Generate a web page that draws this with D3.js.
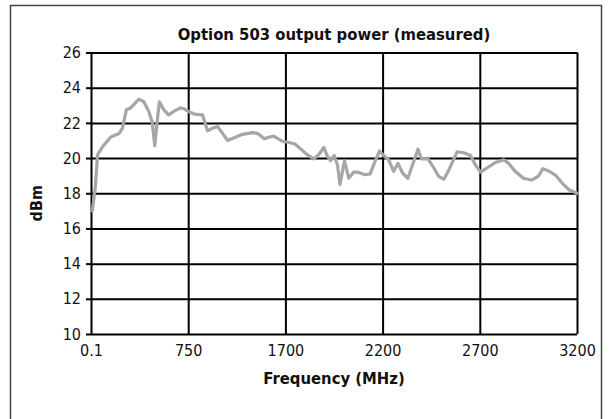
<!DOCTYPE html>
<html>
<head>
<meta charset="utf-8">
<script src="https://cdn.jsdelivr.net/npm/d3@7"></script>
<style>
  body { margin: 0; background: #fff; }
  svg text { font-family: "DejaVu Sans Condensed", "DejaVu Sans", sans-serif; font-stretch: condensed; fill: #111; }
</style>
</head>
<body>
<div id="chart"></div>
<script>
// frequency (MHz) and measured output power (dBm)
const freq = [10, 33, 51, 90, 153, 217, 243, 273, 306, 370, 408, 446, 472, 492, 510, 528, 561, 599, 637, 689, 719, 752,
  809, 890, 939, 988, 1037, 1086, 1135, 1200, 1282, 1380, 1429, 1494, 1544, 1586, 1625, 1674,
  1714, 1749, 1775, 1811, 1846, 1872, 1898, 1916, 1933, 1951, 1968, 1981, 2004, 2026, 2051, 2074, 2109, 2136, 2153, 2184,
  2205, 2231, 2257, 2279, 2303, 2330, 2360, 2382, 2400, 2434, 2463, 2489, 2515, 2540, 2583, 2618, 2652, 2678,
  2704, 2739, 2781, 2823, 2848, 2882, 2924, 2966, 3000, 3025, 3058, 3092, 3126, 3159, 3200];
const power = [17.0, 18.3, 20.2, 20.65, 21.2, 21.4, 21.7, 22.75, 22.85, 23.35, 23.2, 22.65, 22.05, 20.7, 22.05, 23.2, 22.75, 22.45, 22.65, 22.85, 22.8, 22.65,
  22.5, 22.45, 21.55, 21.7, 21.8, 21.4, 21.0, 21.15, 21.35, 21.45, 21.4, 21.1, 21.2, 21.25, 21.1, 20.95,
  20.9, 20.8, 20.55, 20.2, 19.95, 20.2, 20.6, 20.1, 19.85, 20.15, 19.6, 18.5, 19.85, 18.85, 19.2, 19.2, 19.05, 19.1, 19.6, 20.4,
  20.15, 19.9, 19.25, 19.7, 19.15, 18.85, 19.8, 20.5, 19.95, 19.95, 19.45, 18.95, 18.8, 19.3, 20.35, 20.3, 20.15, 19.6,
  19.2, 19.45, 19.75, 19.9, 19.7, 19.25, 18.85, 18.75, 18.95, 19.4, 19.25, 19.0, 18.55, 18.2, 18.0];

const xTicks = [0.1, 750, 1700, 2200, 2700, 3200];
const yTicks = [10, 12, 14, 16, 18, 20, 22, 24, 26];

const title = 'Option 503 output power (measured)';
const xLabel = 'Frequency (MHz)';
const yLabel = 'dBm';

const width = 611, height = 419;
const margin = {top: 52.5, right: 34, bottom: 85, left: 91};
const w = width - margin.left - margin.right;
const h = height - margin.top - margin.bottom;

const svg = d3.select('#chart')
  .append('svg')
  .attr('width', width)
  .attr('height', height);

// outer frame
svg.append('rect')
  .attr('x', 10.5).attr('y', 5.5)
  .attr('width', 591).attr('height', 440)
  .attr('fill', 'none')
  .attr('stroke', '#444')
  .attr('stroke-width', 1.5);

// ticks are spaced evenly, so the scale is piecewise
const x = d3.scaleLinear()
  .domain(xTicks)
  .range(xTicks.map((d, i) => margin.left + i * w / (xTicks.length - 1)));

const y = d3.scaleLinear()
  .domain([10, 26])
  .range([margin.top + h, margin.top]);

// horizontal grid
svg.append('g')
  .attr('transform', `translate(${margin.left},0)`)
  .call(d3.axisLeft(y).tickValues(yTicks).tickSize(-w).tickFormat(''))
  .call(g => g.select('.domain').remove())
  .call(g => g.selectAll('line').attr('stroke', '#000').attr('stroke-width', 2));

// vertical grid
svg.append('g')
  .attr('transform', `translate(0,${margin.top + h})`)
  .call(d3.axisBottom(x).tickValues(xTicks).tickSize(-h).tickFormat(''))
  .call(g => g.select('.domain').remove())
  .call(g => g.selectAll('line').attr('stroke', '#000').attr('stroke-width', 2));

// y axis labels with short outer ticks
svg.append('g')
  .attr('transform', `translate(${margin.left},0)`)
  .call(d3.axisLeft(y).tickValues(yTicks).tickSize(5).tickPadding(5))
  .call(g => g.select('.domain').remove())
  .call(g => g.selectAll('line').attr('stroke', '#000').attr('stroke-width', 2))
  .call(g => g.selectAll('text').attr('font-size', 16).attr('fill', '#111'));

// x axis labels
svg.append('g')
  .attr('transform', `translate(0,${margin.top + h})`)
  .call(d3.axisBottom(x).tickValues(xTicks).tickSize(0).tickPadding(11).tickFormat(d => String(d)))
  .call(g => g.select('.domain').remove())
  .call(g => g.selectAll('text').attr('font-size', 16).attr('fill', '#111'));

const line = d3.line()
  .x((d, i) => x(freq[i]))
  .y(d => y(d));

svg.append('path')
  .datum(power)
  .attr('fill', 'none')
  .attr('stroke', '#a6a6a6')
  .attr('stroke-width', 3.2)
  .attr('stroke-linejoin', 'round')
  .attr('stroke-linecap', 'round')
  .attr('d', line);

svg.append('text')
  .attr('x', margin.left + w / 2)
  .attr('y', 40)
  .attr('text-anchor', 'middle')
  .attr('font-size', 16.5)
  .attr('font-weight', 'bold')
  .text(title);

svg.append('text')
  .attr('x', margin.left + w / 2)
  .attr('y', 384)
  .attr('text-anchor', 'middle')
  .attr('font-size', 16.5)
  .attr('font-weight', 'bold')
  .text(xLabel);

svg.append('text')
  .attr('transform', `translate(42,${(margin.top + margin.top + h) / 2 + 10}) rotate(-90)`)
  .attr('text-anchor', 'middle')
  .attr('font-size', 16)
  .attr('font-weight', 'bold')
  .text(yLabel);
</script>
</body>
</html>
